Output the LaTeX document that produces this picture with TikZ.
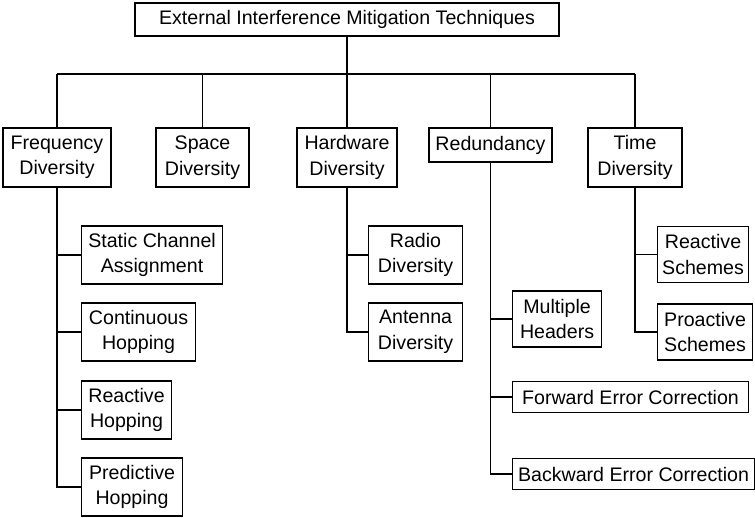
\documentclass[tikz,border=0pt]{standalone}
\usepackage{fontspec}
\setmainfont{Liberation Sans}
\tikzset{
  techbox/.style={draw, line width=1.1pt, align=center, inner sep=0pt,
    minimum height=59pt, font=\fontsize{19.6}{25.5}\selectfont},
  techlink/.style={line width=1.1pt},
  trunklink/.style={line width=1.7pt}
}
\begin{document}
\begin{tikzpicture}[x=1pt,y=-1pt]
    \useasboundingbox (0,0) rectangle (755,517);
    \node[techbox, minimum width=424pt, minimum height=33pt] (root) at (347,19.5) {External Interference Mitigation Techniques};
    %
    \node[techbox, minimum width=108pt] (freq) at (57,157.5) {Frequency\\Diversity};
    \node[techbox, minimum width=93pt] (space) at (202.5,157.5) {Space\\Diversity};
    \node[techbox, minimum width=100pt] (hw) at (347,157.5) {Hardware\\Diversity};
    \node[techbox, minimum width=123pt, minimum height=34pt] (red) at (490.5,145) {Redundancy};
    \node[techbox, minimum width=94pt] (time) at (635,157.5) {Time\\Diversity};
    %
    \node[techbox, anchor=west, minimum width=141pt, minimum height=58pt] (static) at (81,255) {Static Channel\\Assignment};
    \node[techbox, anchor=west, minimum width=114pt, minimum height=58pt] (cont) at (81,332) {Continuous\\Hopping};
    \node[techbox, anchor=west, minimum width=90pt, minimum height=58pt] (reacthop) at (81,410) {Reactive\\Hopping};
    \node[techbox, anchor=west, minimum width=101pt, minimum height=58pt] (predhop) at (81,487) {Predictive\\Hopping};
    %
    \node[techbox, anchor=west, minimum width=94pt, minimum height=58pt] (radio) at (368,255) {Radio\\Diversity};
    \node[techbox, anchor=west, minimum width=94pt, minimum height=58pt] (antenna) at (368,332) {Antenna\\Diversity};
    %
    \node[techbox, anchor=west, minimum width=89pt, minimum height=56pt] (mult) at (512,319) {Multiple\\Headers};
    \node[techbox, anchor=west, minimum width=236pt, minimum height=31pt] (fec) at (512,397) {Forward Error Correction};
    \node[techbox, anchor=west, minimum width=242pt, minimum height=31pt] (bec) at (512,474) {Backward Error Correction};
    %
    \node[techbox, anchor=west, minimum width=91pt, minimum height=56pt] (rsch) at (657,254.5) {Reactive\\Schemes};
    \node[techbox, anchor=west, minimum width=95pt, minimum height=56pt] (psch) at (657,332) {Proactive\\Schemes};
    %
    \coordinate (busL) at (57,74);
    \coordinate (busR) at (635,74);
    \draw[techlink] (busL) -- (busR);
    \draw[trunklink] (space.north |- busL) -- (red.north |- busL);
    \draw[trunklink] (root.south) -- (root.south |- busL);
    \foreach \n in {freq,space,hw,red,time}
      \draw[techlink] (\n.north) -- (\n.north |- busL);
    %
    \draw[techlink] (freq.south) |- (predhop.west);
    \foreach \n in {static,cont,reacthop}
      \draw[techlink] (\n.west) -- (\n.west -| freq.south);
    \draw[techlink] (hw.south) |- (antenna.west);
    \draw[techlink] (radio.west) -- (radio.west -| hw.south);
    \draw[techlink] (red.south) |- (bec.west);
    \foreach \n in {mult,fec}
      \draw[techlink] (\n.west) -- (\n.west -| red.south);
    \draw[techlink] (time.south) |- (psch.west);
    \draw[techlink] (rsch.west) -- (rsch.west -| time.south);
\end{tikzpicture}
\end{document}
